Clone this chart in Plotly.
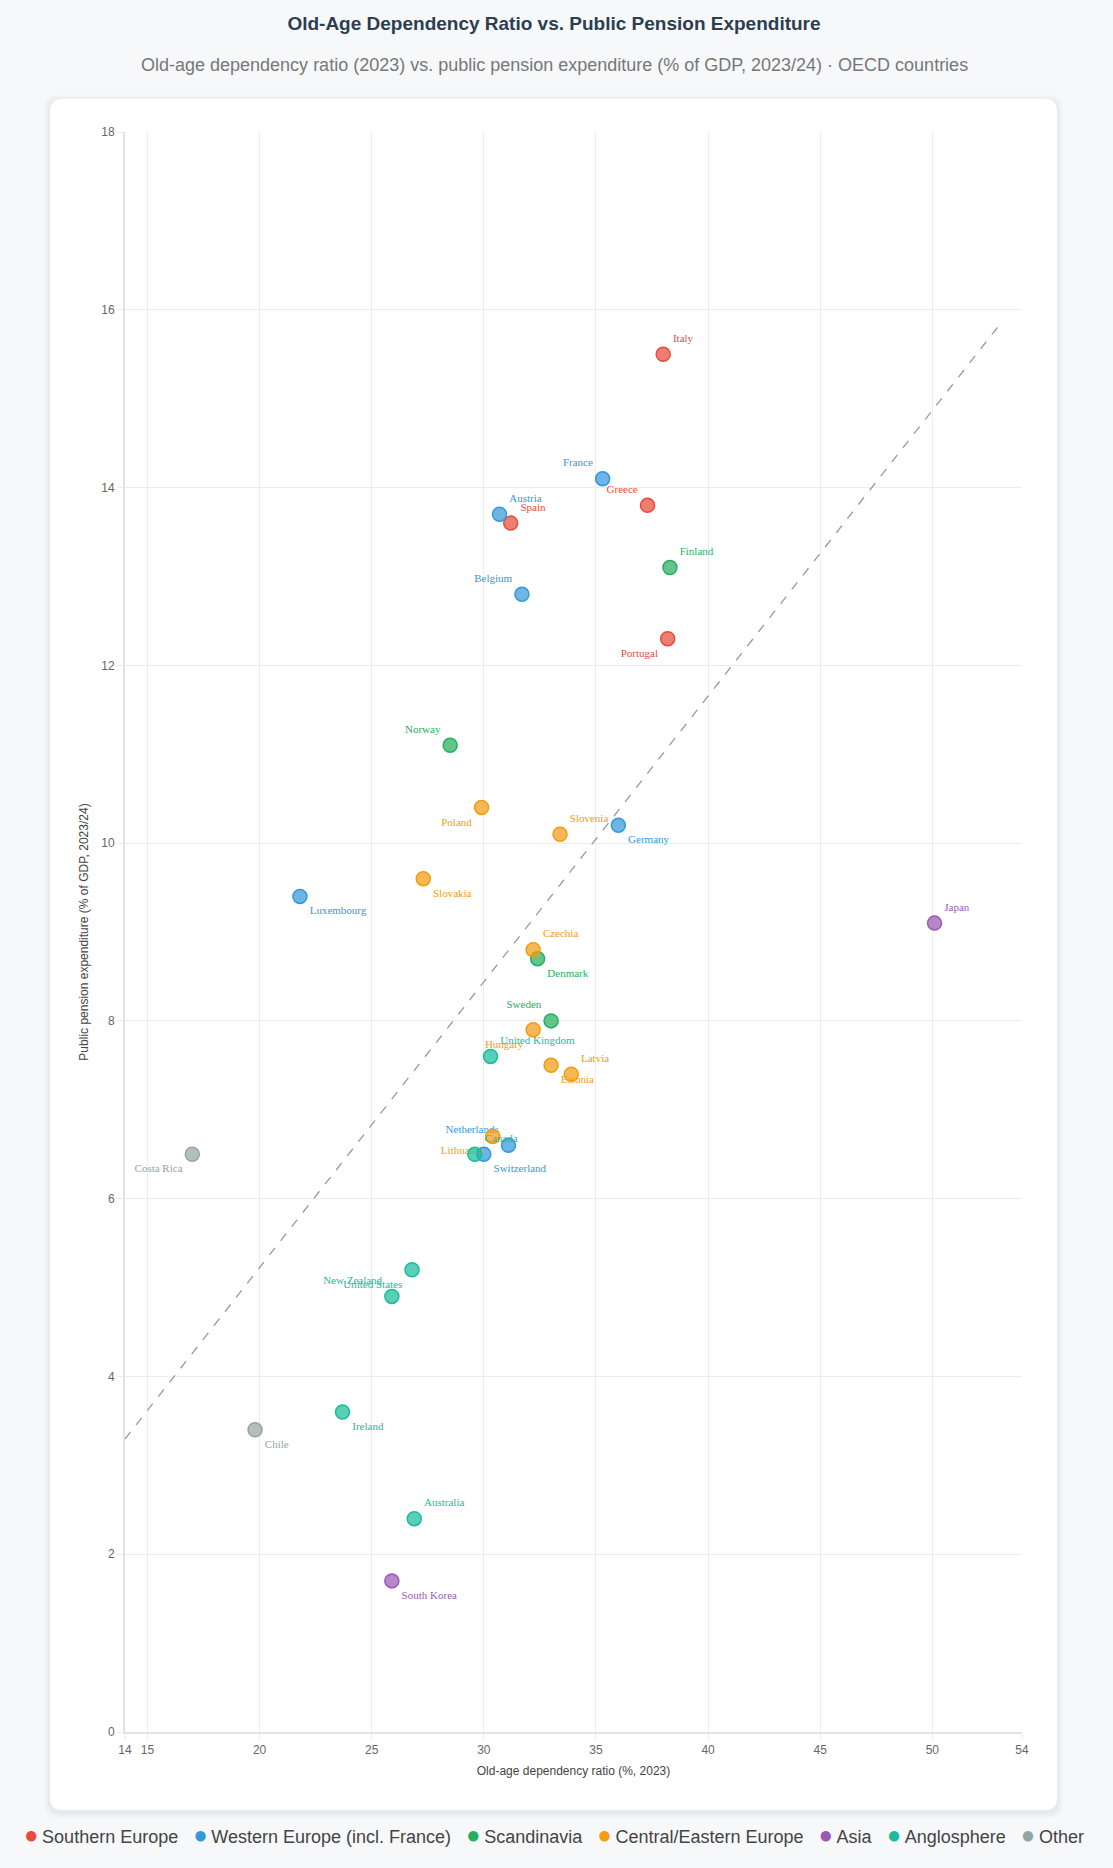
import numpy as np
import plotly.graph_objects as go

# OECD data
countries = ["Italy", "Greece", "Spain", "Portugal",
             "France", "Austria", "Belgium", "Germany", "Luxembourg", "Netherlands", "Switzerland",
             "Finland", "Norway", "Denmark", "Sweden",
             "Poland", "Slovenia", "Slovakia", "Czechia", "Hungary", "Estonia", "Latvia", "Lithuania",
             "Japan", "South Korea",
             "United Kingdom", "Canada", "United States", "New Zealand", "Ireland", "Australia",
             "Costa Rica", "Chile"]
regions = ["Southern Europe"] * 4 + ["Western Europe (incl. France)"] * 7 + ["Scandinavia"] * 4 \
    + ["Central/Eastern Europe"] * 8 + ["Asia"] * 2 + ["Anglosphere"] * 6 + ["Other"] * 2
dependency_ratio = [38.0, 37.3, 31.2, 38.2,
                    35.3, 30.7, 31.7, 36.0, 21.8, 31.1, 30.0,
                    38.3, 28.5, 32.4, 33.0,
                    29.9, 33.4, 27.3, 32.2, 32.2, 33.0, 33.9, 30.4,
                    50.1, 25.9,
                    30.3, 29.6, 26.8, 25.9, 23.7, 26.9,
                    17.0, 19.8]
pension_exp = [15.5, 13.8, 13.6, 12.3,
               14.1, 13.7, 12.8, 10.2, 9.4, 6.6, 6.5,
               13.1, 11.1, 8.7, 8.0,
               10.4, 10.1, 9.6, 8.8, 7.9, 7.5, 7.4, 6.7,
               9.1, 1.7,
               7.6, 6.5, 5.2, 4.9, 3.6, 2.4,
               6.5, 3.4]

region_order = ["Southern Europe", "Western Europe (incl. France)", "Scandinavia",
                "Central/Eastern Europe", "Asia", "Anglosphere", "Other"]
region_colors = {"Southern Europe": "#e74c3c", "Western Europe (incl. France)": "#3498db",
                 "Scandinavia": "#27ae60", "Central/Eastern Europe": "#f39c12",
                 "Asia": "#9b59b6", "Anglosphere": "#1abc9c", "Other": "#95a5a6"}

# where each country's label sits relative to its dot
label_pos = {"Italy": "top right", "Greece": "top left", "Spain": "top right", "Portugal": "bottom left",
             "France": "top left", "Austria": "top right", "Belgium": "top left", "Germany": "bottom right",
             "Luxembourg": "bottom right", "Netherlands": "top left", "Switzerland": "bottom right",
             "Finland": "top right", "Norway": "top left", "Denmark": "bottom right", "Sweden": "top left",
             "Poland": "bottom left", "Slovenia": "top right", "Slovakia": "bottom right",
             "Czechia": "top right", "Hungary": "bottom left", "Estonia": "bottom right",
             "Latvia": "top right", "Lithuania": "bottom left", "Japan": "top right",
             "South Korea": "bottom right", "United Kingdom": "top right", "Canada": "top right",
             "United States": "bottom left", "New Zealand": "top left", "Ireland": "bottom right",
             "Australia": "top right", "Costa Rica": "bottom left", "Chile": "bottom right"}

BG = "#f7f8fa"


def rgba(hex_color, a):
    h = hex_color.lstrip("#")
    return "rgba(%d,%d,%d,%s)" % (int(h[0:2], 16), int(h[2:4], 16), int(h[4:6], 16), a)


fig = go.Figure()

# white card behind the plot (rounded rect in paper coords)
plot_w, plot_h = 897, 1600
x0, x1, y0, y1 = -0.0836, 1.039, -0.04875, 1.0206
rx, ry = 12 / plot_w, 12 / plot_h


def rounded(x0, x1, y0, y1, rx, ry):
    return (f"M {x0 + rx},{y0} L {x1 - rx},{y0} Q {x1},{y0} {x1},{y0 + ry} "
            f"L {x1},{y1 - ry} Q {x1},{y1} {x1 - rx},{y1} L {x0 + rx},{y1} "
            f"Q {x0},{y1} {x0},{y1 - ry} L {x0},{y0 + ry} Q {x0},{y0} {x0 + rx},{y0} Z")


shapes = []
for i, a in enumerate([0.025, 0.02, 0.015]):
    d = (i + 1) * 2
    shapes.append(dict(type="path", xref="paper", yref="paper", layer="below",
                       path=rounded(x0 - d / plot_w, x1 + d / plot_w, y0 - (d + 2) / plot_h,
                                    y1 + (d - 2) / plot_h, rx, ry),
                       fillcolor=f"rgba(0,0,0,{a})", line=dict(width=0)))
shapes.append(dict(type="path", xref="paper", yref="paper", layer="below",
                   path=rounded(x0, x1, y0, y1, rx, ry),
                   fillcolor="white", line=dict(width=0)))

# trend line (least squares over all countries)
slope, intercept = np.polyfit(dependency_ratio, pension_exp, 1)
tx = np.array([min(dependency_ratio) - 3, max(dependency_ratio) + 3])
fig.add_trace(go.Scatter(x=tx, y=slope * tx + intercept, mode="lines",
                         line=dict(color="#999999", width=1.3, dash="dash"),
                         showlegend=False, hoverinfo="skip"))

for reg in region_order:
    idx = [i for i, r in enumerate(regions) if r == reg]
    col = region_colors[reg]
    fig.add_trace(go.Scatter(
        x=[dependency_ratio[i] for i in idx],
        y=[pension_exp[i] for i in idx],
        text=[countries[i] for i in idx],
        textposition=[label_pos[countries[i]] for i in idx],
        mode="markers+text",
        name=reg,
        marker=dict(size=14, color=rgba(col, 0.72), line=dict(color=col, width=1.5)),
        textfont=dict(family="Liberation Serif", size=11, color=col),
        hovertemplate="%{text}<br>Dependency ratio: %{x}%<br>Pension exp.: %{y}% of GDP<extra></extra>",
    ))

# legend row under the card, built as one centred line of text
sep = "&nbsp;" * 3
legend_text = sep.join(
    f'<span style="color:{region_colors[r]};font-size:24px">●</span>&#8201;{r}' for r in region_order)

center_x = (554 - 125) / plot_w
fig.update_layout(
    width=1113, height=1868, autosize=False,
    margin=dict(l=125, r=91, t=132, b=136),
    paper_bgcolor=BG, plot_bgcolor="rgba(0,0,0,0)",
    font=dict(family="Liberation Sans", color="#444"),
    shapes=shapes,
    showlegend=False,
    title=dict(text="<b>Old-Age Dependency Ratio vs. Public Pension Expenditure</b>",
               x=(554 - 125) / plot_w, xref="paper", xanchor="center", y=1 - 23 / 1868, yref="container",
               yanchor="middle", font=dict(size=19, color="#2c3e50")),
    annotations=[
        dict(text="Old-age dependency ratio (2023) vs. public pension expenditure "
                  "(% of GDP, 2023/24) · OECD countries",
             xref="paper", yref="paper", x=center_x, y=(1732 - 65) / plot_h,
             xanchor="center", yanchor="middle", showarrow=False,
             font=dict(size=18, color="#777")),
        dict(text=legend_text, xref="paper", yref="paper", x=center_x, y=(1732 - 1834) / plot_h,
             xanchor="center", yanchor="middle", showarrow=False,
             font=dict(size=18, color="#444")),
    ],
)

fig.update_xaxes(range=[14, 54], tickvals=[14, 15, 20, 25, 30, 35, 40, 45, 50, 54],
                 showgrid=True, gridcolor="#ececec", gridwidth=1,
                 showline=True, linecolor="#e2e2e2", linewidth=2,
                 ticks="outside", ticklen=6, tickcolor="#ececec", tickangle=0,
                 tickfont=dict(size=12, color="#666"), zeroline=False,
                 title=dict(text="Old-age dependency ratio (%, 2023)", font=dict(size=12, color="#444"),
                            standoff=10))
fig.update_yaxes(range=[0, 18], dtick=2,
                 showgrid=True, gridcolor="#ececec", gridwidth=1,
                 showline=True, linecolor="#e2e2e2", linewidth=2,
                 ticks="outside", ticklen=6, tickcolor="#ececec",
                 tickfont=dict(size=12, color="#666"), zeroline=False,
                 title=dict(text="Public pension expenditure (% of GDP, 2023/24)",
                            font=dict(size=12, color="#444"), standoff=10))

fig.write_html("out.html", config={"displayModeBar": False},
               post_script="document.body.style.margin='0';document.body.style.background='%s';" % BG)
